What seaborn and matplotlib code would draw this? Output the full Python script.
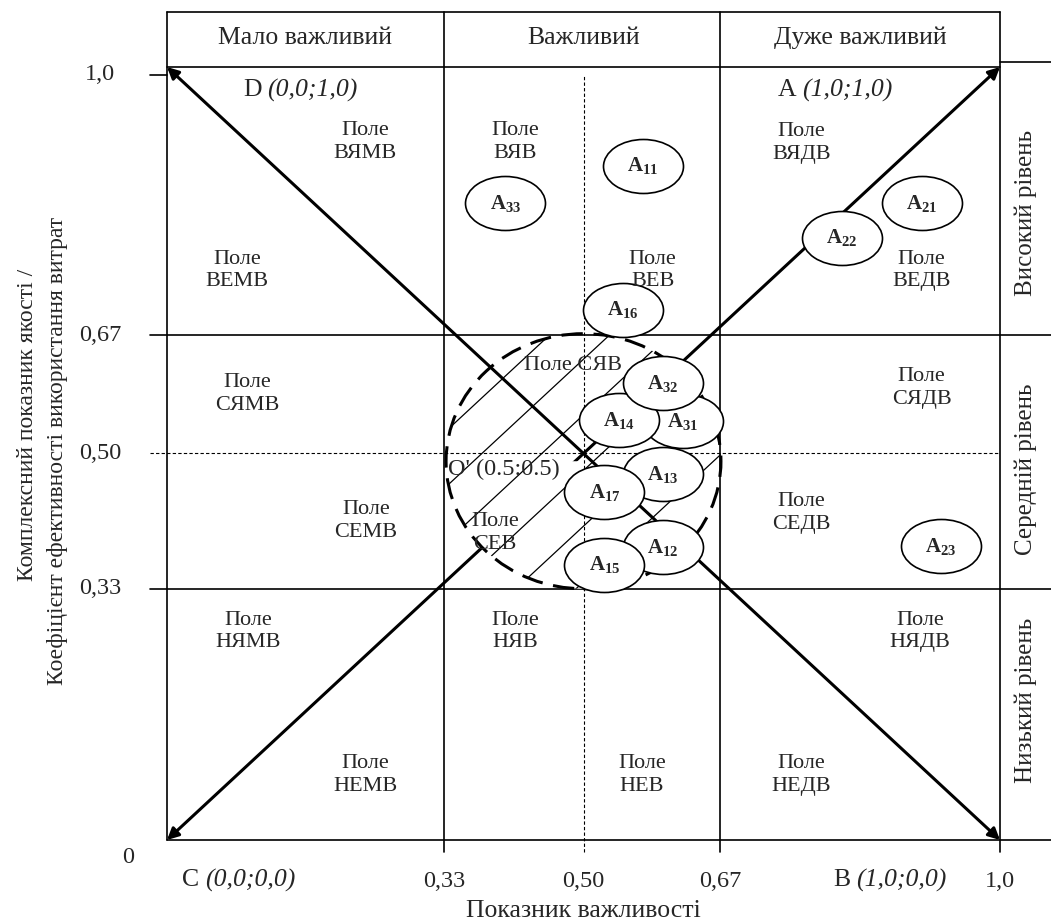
import numpy as np
import pandas as pd
import matplotlib
matplotlib.use("Agg")
import matplotlib.pyplot as plt
import seaborn as sns
from matplotlib.path import Path
from matplotlib.transforms import Affine2D
from matplotlib.patches import Circle, Wedge

sns.set_theme(style="white")
plt.rcParams['font.family'] = ['Liberation Serif', 'DejaVu Serif']
plt.rcParams['mathtext.fontset'] = 'custom'
plt.rcParams['mathtext.rm'] = 'Liberation Serif'
plt.rcParams['mathtext.bf'] = 'Liberation Serif:bold'
plt.rcParams['mathtext.it'] = 'Liberation Serif:italic'

# grid levels as they sit in the picture
x_grid = [0.333, 0.664]
y_grid = [0.325, 0.653]
x_mid, y_mid = 0.5, 0.5

x_tick_pos = [0.333, 0.5, 0.664, 1.0]
x_tick_lab = ["0,33", "0,50", "0,67", "1,0"]
y_tick_pos = [0.325, 0.5, 0.653, 0.99]
y_tick_lab = ["0,33", "0,50", "0,67", "1,0"]

col_heads = ["Мало важливий", "Важливий", "Дуже важливий"]
col_head_x = [0.166, 0.5, 0.832]
row_heads = ["Високий рівень", "Середній рівень", "Низький рівень"]
row_head_y = [0.811, 0.479, 0.181]

corner_names = ["D", "А", "C", "B"]
corner_coords = ["(0,0;1,0)", "(1,0;1,0)", "(0,0;0,0)", "(1,0;0,0)"]
corner_x = [0.091, 0.733, 0.018, 0.80]
corner_y = [0.97, 0.97, -0.052, -0.052]

# fields of the matrix
fields = ["ВЯМВ", "ВЕМВ", "ВЯВ", "ВЕВ", "ВЯДВ", "ВЕДВ",
          "СЯМВ", "СЕМВ", "СЯДВ", "СЕДВ",
          "НЯМВ", "НЯВ", "НЯДВ", "НЕМВ", "НЕВ", "НЕДВ"]
field_x = [0.238, 0.084, 0.418, 0.583, 0.762, 0.906,
           0.096, 0.239, 0.906, 0.762,
           0.097, 0.418, 0.904, 0.238, 0.570, 0.761]
field_y = [0.903, 0.737, 0.903, 0.737, 0.902, 0.737,
           0.577, 0.413, 0.585, 0.423,
           0.270, 0.270, 0.270, 0.084, 0.084, 0.084]

# objects A_ij: importance (x) and quality (y)
obj_id = ["11", "33", "21", "22", "16", "31", "14", "32", "13", "17", "12", "15", "23"]
importance = [0.571, 0.406, 0.906, 0.810, 0.547, 0.619, 0.543, 0.595, 0.595, 0.525, 0.595, 0.525, 0.929]
quality = [0.872, 0.824, 0.824, 0.779, 0.686, 0.542, 0.543, 0.591, 0.473, 0.450, 0.379, 0.356, 0.380]

# zone of the centre O'
o_center = (0.5, 0.49)
o_radius = 0.165

df = pd.DataFrame({"obj": obj_id, "imp": importance, "qual": quality})

fig = plt.figure(figsize=(10.51, 9.22), dpi=100)
ax = fig.add_axes([167 / 1051, 82 / 922, 833 / 1051, 773 / 922])
ax.set_xlim(0, 1)
ax.set_ylim(0, 1)
ax.axis("off")

top = 1.071
right = 1.061
lw = 1.2
kw = dict(color="black", lw=lw, clip_on=False, zorder=2)

# frame, header and right band
ax.plot([0, 0], [0, top], **kw)
ax.plot([1, 1], [-0.015, top], **kw)
for xg in x_grid:
    ax.plot([xg, xg], [-0.015, top], **kw)
ax.plot([0, 1], [top, top], **kw)
ax.plot([0, 1], [1, 1], **kw)
ax.plot([1, right], [1.006, 1.006], **kw)
for yg in y_grid:
    ax.plot([-0.02, right], [yg, yg], **kw)
ax.plot([0, right], [0, 0], **kw)
ax.plot([-0.02, 0], [y_tick_pos[-1], y_tick_pos[-1]], **kw)

dkw = dict(color="black", lw=0.8, ls=(0, (3, 2)), clip_on=False, zorder=2)
ax.plot([-0.02, 1], [y_mid, y_mid], **dkw)
ax.plot([x_mid, x_mid], [-0.015, 0.99], **dkw)

# diagonals with arrows to the corners
for (x0, y0), (x1, y1) in [((0, 1), (1, 0)), ((0, 0), (1, 1))]:
    ax.annotate("", xy=(x1, y1), xytext=(x0, y0), annotation_clip=False,
                arrowprops=dict(arrowstyle="<|-|>", lw=2.2, color="black",
                                mutation_scale=17, shrinkA=0, shrinkB=0),
                zorder=3)

# mask lower-left quarter of the zone, then hatch and dashed outline
ax.add_patch(Wedge(o_center, o_radius, 180, 270, facecolor="white",
                   edgecolor="none", zorder=4))
clip = Circle(o_center, o_radius, transform=ax.transData)
xs = np.array([0.2, 0.8])
for c in np.arange(-0.30, 0.31, 0.072):
    ln, = ax.plot(xs, xs - 0.01 + c, color="black", lw=0.9, zorder=5)
    ln.set_clip_path(clip)
ax.add_patch(Circle(o_center, o_radius, fill=False, lw=2.2,
                    ls=(0, (7, 3.5)), edgecolor="black", zorder=5,
                    clip_on=False))

# objects as ellipses
ell = Path.unit_circle().transformed(Affine2D().scale(1, 54 / 80))
sns.scatterplot(data=df, x="imp", y="qual", marker=ell, s=3318,
                color="white", edgecolor="black", linewidth=1.2,
                legend=False, ax=ax, zorder=6, clip_on=False)
for _, r in df.iterrows():
    ax.text(r["imp"], r["qual"], rf"$\mathbf{{A_{{{r['obj']}}}}}$",
            ha="center", va="center", fontsize=15, zorder=7)

# field labels
fs_field = 16
for f, fx, fy in zip(fields, field_x, field_y):
    ax.text(fx, fy, "Поле\n" + f, ha="center", va="center",
            fontsize=fs_field, linespacing=1.25, zorder=7)
ax.text(0.487, 0.614, "Поле СЯВ", ha="center", va="center",
        fontsize=fs_field, zorder=7)
ax.text(0.394, 0.397, "Поле\nСЕВ", ha="center", va="center",
        fontsize=fs_field, linespacing=1.25, zorder=7)
ax.text(0.337, 0.48, "O' (0.5:0.5)", ha="left", va="center",
        fontsize=17.5, zorder=7)

fs = 18.5
# headers
for t, hx in zip(col_heads, col_head_x):
    ax.text(hx, 1.0375, t, ha="center", va="center", fontsize=fs)
for t, hy in zip(row_heads, row_head_y):
    ax.text(1.031, hy, t, ha="center", va="center", rotation=90,
            fontsize=18)

# corner points
for n, cc, cx, cy in zip(corner_names, corner_coords, corner_x, corner_y):
    t = ax.text(cx, cy, n, ha="left", va="center", fontsize=fs)
    ax.annotate(cc, xy=(1, 0.5), xycoords=t, xytext=(4, 0),
                textcoords="offset points", ha="left", va="center",
                fontsize=fs, style="italic", annotation_clip=False)

# tick labels
for p, t in zip(x_tick_pos, x_tick_lab):
    ax.text(p, -0.054, t, ha="center", va="center", fontsize=17.5)
for p, t in zip(y_tick_pos, y_tick_lab):
    ax.text(-0.08, p, t, ha="center", va="center", fontsize=17.5)
ax.text(-0.047, -0.022, "0", ha="center", va="center", fontsize=17.5)

# axis titles
ax.text(0.5, -0.092, "Показник важливості", ha="center", va="center",
        fontsize=fs)
ax.text(-0.168, 0.537, "Комплексний показник якості /", ha="center",
        va="center", rotation=90, fontsize=17)
ax.text(-0.132, 0.503, "Коефіцієнт ефективності використання витрат",
        ha="center", va="center", rotation=90, fontsize=17)

fig.savefig("out.png", dpi=100)
